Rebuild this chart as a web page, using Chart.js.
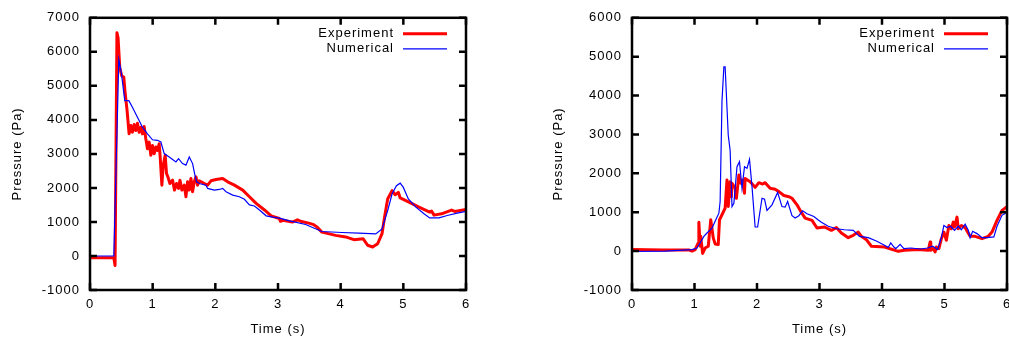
<!DOCTYPE html>
<html>
<head>
<meta charset="utf-8">
<script src="https://cdn.jsdelivr.net/npm/chart.js@4.4.0/dist/chart.umd.min.js"></script>
<style>
body { margin: 0; background: #fff; overflow: hidden; width: 1009px; height: 339px; position: relative; }
canvas { position: absolute; top: 0; }
</style>
</head>
<body>
<canvas id="leftChart" width="480" height="339" style="left:0px"></canvas>
<canvas id="rightChart" width="500" height="339" style="left:520px"></canvas>
<script>
// series labels
var expLabel = 'Experiment';
var numLabel = 'Numerical';

// left panel - experiment
var leftExpTime = [0, 0.38, 0.40, 0.43, 0.448, 0.475, 0.507, 0.539, 0.56, 0.592,
    0.624, 0.651, 0.677, 0.704, 0.731, 0.757, 0.784, 0.811, 0.837, 0.864, 0.891, 0.917, 0.944, 0.971, 0.997,
    1.024, 1.051, 1.077, 1.104, 1.12, 1.147, 1.168, 1.2, 1.221, 1.243, 1.275, 1.317, 1.349, 1.381, 1.413,
    1.435, 1.467, 1.504, 1.531, 1.557, 1.584, 1.611, 1.637, 1.664, 1.691, 1.717, 1.744,
    1.824, 1.877, 1.931, 2.011, 2.117, 2.197, 2.304, 2.437, 2.544, 2.651, 2.784, 2.891, 3.02,
    3.04, 3.08, 3.23, 3.31, 3.36, 3.49, 3.57, 3.62, 3.70, 3.92, 4.08, 4.21, 4.36, 4.43, 4.51, 4.59, 4.66,
    4.70, 4.75, 4.82, 4.87, 4.92, 4.95, 5.09, 5.25, 5.42, 5.45, 5.49, 5.61, 5.77, 5.82, 6.0];
var leftExpPres = [-50, -50, -280, 6560, 6410, 5540, 5290, 5260, 4810, 4270,
    3590, 3834, 3639, 3863, 3688, 3902, 3639, 3785, 3590, 3804, 3444, 3153, 3347, 2958, 3250,
    3007, 3201, 3104, 3298, 2909, 2082, 2666, 2958, 2423, 2325, 2131, 2228, 1936, 2131, 1985,
    2228, 1936, 2082, 1742, 2180, 1936, 2277, 1888, 2180, 2325, 2082, 2209,
    2131, 2082, 2209, 2248, 2277, 2180, 2082, 1936, 1742, 1547, 1352, 1177, 1100,
    1020, 1050, 995, 1065, 1020, 965, 920, 855, 700, 605, 560, 480, 505, 315, 265, 360, 655,
    1140, 1675, 1920, 1800, 1870, 1705, 1580, 1435, 1290, 1320, 1200, 1240, 1350, 1310, 1365];

// left panel - numerical
var leftNumTime = [0, 0.38, 0.46, 0.50, 0.555, 0.62, 0.677, 0.757, 0.837, 0.917, 0.997, 1.077, 1.131, 1.184,
    1.264, 1.371, 1.413, 1.477, 1.531, 1.584, 1.637, 1.68, 1.701, 1.744, 1.851, 1.877, 1.984, 2.064, 2.117,
    2.171, 2.277, 2.384, 2.464, 2.544, 2.624, 2.704, 2.811, 2.917, 3.024,
    3.17, 3.44, 3.70, 4.02, 4.29, 4.56, 4.66, 4.75, 4.82, 4.89, 4.95, 5.0, 5.08, 5.2, 5.33, 5.42, 5.57,
    5.70, 5.86, 6.0];
var leftNumPres = [0, 0, 5780, 5390, 4565, 4565, 4370, 4080, 3785, 3590, 3415, 3400, 3350, 3010,
    2910, 2765, 2860, 2715, 2670, 2910, 2715, 2325, 2180, 2130, 2080, 1985, 1935, 1955, 1985,
    1890, 1790, 1740, 1665, 1500, 1470, 1350, 1180, 1140, 1110,
    1040, 925, 720, 690, 670, 650, 795, 1335, 1820, 2065, 2140, 2015, 1675, 1435, 1240, 1120, 1120,
    1190, 1260, 1310];

// right panel - experiment
var rightExpTime = [0, 0.5, 0.91, 0.96, 1.01, 1.06, 1.07, 1.09, 1.10, 1.13, 1.17, 1.22, 1.26, 1.30, 1.33,
    1.38, 1.40, 1.44, 1.49, 1.52, 1.54, 1.57, 1.59, 1.60, 1.65, 1.67, 1.71, 1.74, 1.77, 1.80, 1.81, 1.89,
    1.97, 2.03, 2.09, 2.13, 2.21, 2.29, 2.35, 2.43, 2.51, 2.56, 2.64, 2.71, 2.77, 2.88, 2.96,
    3.08, 3.19, 3.27, 3.35, 3.46, 3.54, 3.62, 3.67, 3.75, 3.83, 4.04, 4.26, 4.36, 4.58, 4.74, 4.77, 4.78,
    4.82, 4.85, 4.87, 4.91, 4.95, 4.99, 5.03, 5.07, 5.11, 5.14, 5.16, 5.20, 5.22, 5.27, 5.33, 5.37, 5.41,
    5.49, 5.60, 5.70, 5.76, 5.84, 5.92, 6.0];
var rightExpPres = [40, 30, 30, 0, 40, 210, 740, 125, 380, -60, 80, 125, 805, 340, 185,
    170, 805, 935, 1105, 1830, 1150, 1785, 1400, 1745, 1615, 1360, 1955, 1745, 1830, 1490, 1870, 1785,
    1640, 1760, 1725, 1760, 1615, 1590, 1530, 1430, 1400, 1360, 1190, 995, 850, 790, 595,
    620, 535, 605, 465, 345, 405, 490, 380, 295, 125, 105, -5, 20, 40, 20, 235, 20,
    65, -20, 105, 65, 320, 490, 280, 660, 575, 745, 620, 875, 575, 660, 605, 490, 380,
    380, 320, 380, 490, 790, 1045, 1145];

// right panel - numerical
var rightNumTime = [0, 0.53, 0.96, 1.04, 1.09, 1.15, 1.20, 1.28, 1.33, 1.39, 1.41, 1.44, 1.47, 1.49, 1.54,
    1.57, 1.60, 1.63, 1.68, 1.72, 1.76, 1.80, 1.84, 1.88, 1.92, 1.97, 2.01, 2.08, 2.12, 2.16, 2.24, 2.33,
    2.40, 2.45, 2.49, 2.56, 2.61, 2.67, 2.73, 2.80, 2.91, 2.98,
    3.03, 3.14, 3.27, 3.40, 3.54, 3.64, 3.78, 3.91, 4.04, 4.10, 4.14, 4.19, 4.22, 4.29, 4.35, 4.46, 4.62,
    4.73, 4.81, 4.89, 4.95, 4.99, 5.04, 5.10, 5.16, 5.22, 5.27, 5.33, 5.38, 5.41, 5.45, 5.52, 5.60, 5.68,
    5.79, 5.84, 5.92, 6.0];
var rightNumPres = [-10, 0, 40, 80, 210, 380, 465, 590, 765, 975, 1275, 3870, 4740, 4740, 2980,
    2595, 1145, 1230, 2170, 2300, 1615, 2170, 2130, 2360, 1660, 620, 620, 1360, 1335, 1045, 1190, 1510,
    1145, 1130, 1275, 910, 850, 910, 1035, 960, 890, 800,
    745, 640, 575, 550, 535, 380, 345, 260, 150, 92, 210, 105, 65, 175, 65, 80, 55,
    80, 125, 40, 345, 660, 605, 640, 535, 640, 550, 690, 535, 345, 510, 450, 345, 345,
    365, 640, 920, 1000];

// axis ticks
var timeTicks = [0, 1, 2, 3, 4, 5, 6];
var leftPresMax = 7000;
var rightPresMax = 6000;
var presMin = -1000;

function pairs(ts, ps) {
    return ts.map(function(t, i) { return { x: t, y: ps[i] }; });
}

Chart.defaults.font.family = '"Liberation Sans", Arial, Helvetica, sans-serif';
Chart.defaults.font.size = 13;
Chart.defaults.color = '#000';

// gnuplot-ish frame with inward ticks and a right-aligned key
var gnuplotLook = {
    id: 'gnuplotLook',
    beforeLayout: function(chart) { chart.ctx.letterSpacing = '1px'; },
    beforeDraw: function(chart) { chart.ctx.letterSpacing = '1px'; },
    afterDraw: function(chart) {
        var ctx = chart.ctx, a = chart.chartArea;
        var xs = chart.scales.x, ys = chart.scales.y;
        ctx.save();
        ctx.strokeStyle = '#000';
        ctx.lineWidth = 2.5;
        ctx.beginPath();
        xs.ticks.forEach(function(t) {
            var px = xs.getPixelForValue(t.value);
            ctx.moveTo(px, a.bottom); ctx.lineTo(px, a.bottom - 7);
            ctx.moveTo(px, a.top); ctx.lineTo(px, a.top + 7);
        });
        ys.ticks.forEach(function(t) {
            var py = ys.getPixelForValue(t.value);
            ctx.moveTo(a.left, py); ctx.lineTo(a.left + 7, py);
            ctx.moveTo(a.right, py); ctx.lineTo(a.right - 7, py);
        });
        ctx.stroke();
        ctx.strokeRect(a.left, a.top, a.right - a.left, a.bottom - a.top);

        ctx.font = '13px "Liberation Sans", Arial, sans-serif';
        ctx.fillStyle = '#000';
        ctx.textAlign = 'right';
        ctx.textBaseline = 'middle';
        chart.data.datasets.forEach(function(ds, i) {
            var y = a.top + 16 + i * 15;
            ctx.fillText(ds.label, a.right - 72, y);
            ctx.strokeStyle = ds.borderColor;
            ctx.lineWidth = ds.borderWidth;
            ctx.beginPath();
            ctx.moveTo(a.right - 63, y);
            ctx.lineTo(a.right - 19, y);
            ctx.stroke();
        });
        ctx.restore();
    }
};

function makeChart(id, expT, expP, numT, numP, yMax, axisWidth, titlePad, padRight) {
    var ctx = document.getElementById(id).getContext('2d');
    return new Chart(ctx, {
        type: 'line',
        data: {
            datasets: [{
                label: expLabel,
                data: pairs(expT, expP),
                borderColor: '#ff0000',
                backgroundColor: 'transparent',
                borderWidth: 3,
                borderJoinStyle: 'round',
                pointRadius: 0,
                tension: 0,
                order: 1
            }, {
                label: numLabel,
                data: pairs(numT, numP),
                borderColor: '#0000ff',
                backgroundColor: 'transparent',
                borderWidth: 1.2,
                pointRadius: 0,
                tension: 0,
                order: 0
            }]
        },
        options: {
            responsive: false,
            animation: false,
            layout: { padding: { top: 16, right: padRight, left: 0, bottom: 0 } },
            plugins: { legend: { display: false }, tooltip: { enabled: false } },
            scales: {
                x: {
                    type: 'linear',
                    min: timeTicks[0],
                    max: timeTicks[timeTicks.length - 1],
                    afterBuildTicks: function(s) { s.ticks = timeTicks.map(function(v) { return { value: v }; }); },
                    ticks: { padding: 7, callback: function(v) { return v; } },
                    grid: { display: false, drawTicks: false },
                    border: { display: false },
                    title: { display: true, text: 'Time (s)', padding: { top: 0, bottom: 1.5 } },
                    afterFit: function(s) { s.height = 49; }
                },
                y: {
                    min: presMin,
                    max: yMax,
                    ticks: { stepSize: 1000, padding: 10, callback: function(v) { return v; } },
                    grid: { display: false, drawTicks: false },
                    border: { display: false },
                    title: { display: true, text: 'Pressure (Pa)', padding: { top: titlePad, bottom: 0 } },
                    afterFit: function(s) { s.width = axisWidth; }
                }
            }
        },
        plugins: [gnuplotLook]
    });
}

makeChart('leftChart', leftExpTime, leftExpPres, leftNumTime, leftNumPres, leftPresMax, 90, 10, 14);
makeChart('rightChart', rightExpTime, rightExpPres, rightNumTime, rightNumPres, rightPresMax, 112, 31, 13);
</script>
</body>
</html>
